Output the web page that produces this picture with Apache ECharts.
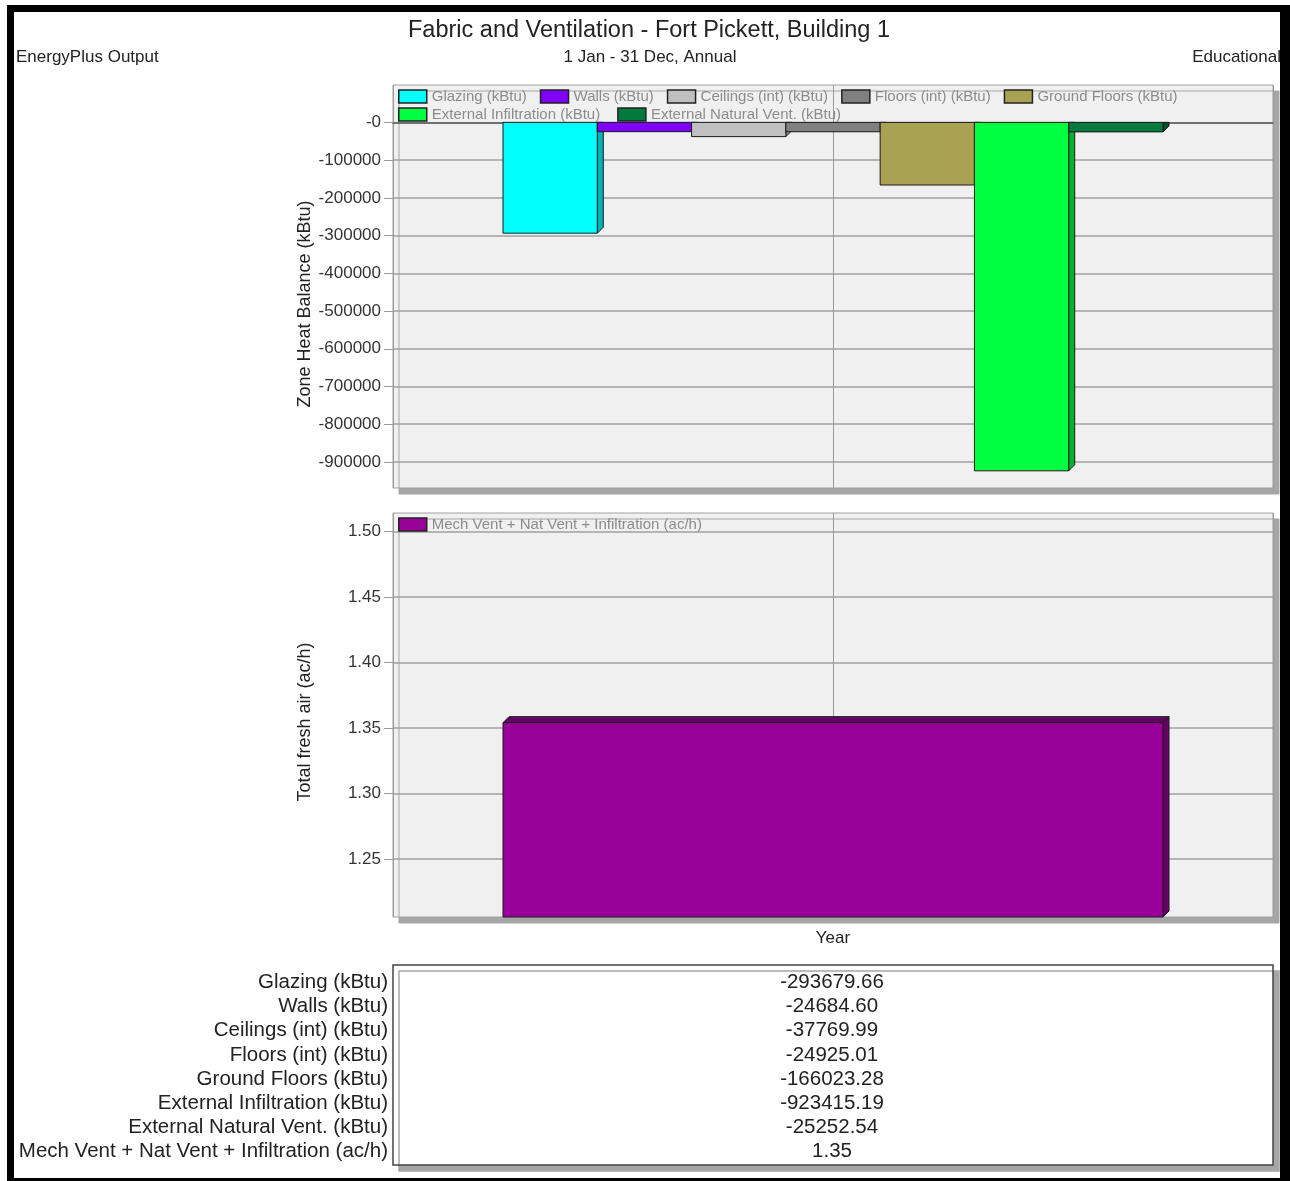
<!DOCTYPE html>
<html><head><meta charset="utf-8">
<script src="https://cdn.jsdelivr.net/npm/echarts@6/dist/echarts.min.js"></script>
<style>html,body{margin:0;padding:0;background:#fff}#c{width:1290px;height:1181px}</style>
</head><body><div id="c"></div>
<script>
// ---------- data ----------
const category = ['Year'];
const heatNames = ['Glazing (kBtu)', 'Walls (kBtu)', 'Ceilings (int) (kBtu)', 'Floors (int) (kBtu)',
  'Ground Floors (kBtu)', 'External Infiltration (kBtu)', 'External Natural Vent. (kBtu)'];
const glazing = [-293679.66];
const walls = [-24684.60];
const ceilings = [-37769.99];
const floorsInt = [-24925.01];
const groundFloors = [-166023.28];
const extInfiltration = [-923415.19];
const extNaturalVent = [-25252.54];
const freshAirName = 'Mech Vent + Nat Vent + Infiltration (ac/h)';
const freshAir = [1.354];
const heatTicks = [0, -100000, -200000, -300000, -400000, -500000, -600000, -700000, -800000, -900000];
const airTicks = [1.25, 1.30, 1.35, 1.40, 1.45, 1.50];

// ---------- styling ----------
const FONT = '"Liberation Sans", Arial, sans-serif';
const heatData = [glazing, walls, ceilings, floorsInt, groundFloors, extInfiltration, extNaturalVent];
const faceColors = ['#00FFFF', '#8000FF', '#C0C0C0', '#808080', '#A9A252', '#00FF40', '#007A3D'];
const sideColors = ['#00B4B4', '#5A00B4', '#8C8C8C', '#585858', '#767038', '#00B42C', '#004F27'];
const DEPTH = 6;
const OUTLINE = '#1a1a1a';

const chart = echarts.init(document.getElementById('c'), null, {renderer: 'canvas'});

// 3D-looking bar drawn through the axis scales (api.coord / api.size)
function bar3D(idx, count, widthRatio, front, side) {
  return function (params, api) {
    const cs = params.coordSys;
    const xv = api.value(0), v = api.value(1);
    const p = api.coord([xv, v]);
    const z = api.coord([xv, 0]);
    const band = api.size([1, 0])[0];
    const total = band * widthRatio;
    const w = total / count;
    const x0 = p[0] - total / 2 + idx * w, x1 = x0 + w;
    const base = Math.min(Math.max(z[1], cs.y), cs.y + cs.height);
    const yTop = Math.min(p[1], base), yBot = Math.max(p[1], base);
    const d = DEPTH;
    const sty = (fill) => ({fill: fill, stroke: OUTLINE, lineWidth: 1});
    const children = [];
    if (v >= 0) {
      children.push({type: 'polygon', shape: {points: [[x0, yTop], [x0 + d, yTop - d], [x1 + d, yTop - d], [x1, yTop]]}, style: sty(side)});
      children.push({type: 'polygon', shape: {points: [[x1, yTop], [x1 + d, yTop - d], [x1 + d, yBot - d], [x1, yBot]]}, style: sty(side)});
    } else {
      const yb = Math.max(yBot - d, yTop);
      children.push({type: 'polygon', shape: {points: [[x1, yTop], [x1 + d, yTop], [x1 + d, yb], [x1, yBot]]}, style: sty(side)});
    }
    children.push({type: 'rect', shape: {x: x0, y: yTop, width: w, height: yBot - yTop}, style: sty(front)});
    return {type: 'group', children: children};
  };
}

const heatSeries = heatNames.map((n, i) => ({
  type: 'custom', name: n, xAxisIndex: 0, yAxisIndex: 0,
  data: heatData[i].map((v, k) => [k, v]),
  encode: {x: 0, y: 1},
  itemStyle: {color: faceColors[i]},
  renderItem: bar3D(i, heatNames.length, 0.75, faceColors[i], sideColors[i])
}));

const airSeries = {
  type: 'custom', name: freshAirName, xAxisIndex: 2, yAxisIndex: 1,
  data: freshAir.map((v, k) => [k, v]),
  encode: {x: 0, y: 1},
  itemStyle: {color: '#990099'},
  renderItem: bar3D(0, 1, 0.75, '#990099', '#640064')
};

const legendCommon = {
  orient: 'horizontal', itemWidth: 28, itemHeight: 13, itemGap: 13, icon: 'rect', padding: 0,
  selectedMode: false, width: 900,
  textStyle: {color: '#8c8c8c', fontSize: 15, fontFamily: FONT},
  itemStyle: {borderColor: '#222', borderWidth: 1.5}
};

const gridCommon = {
  show: true, left: 393, width: 880, backgroundColor: '#F0F0F0', borderColor: '#A0A0A0', borderWidth: 1,
  shadowColor: '#A6A6A6', shadowOffsetX: 6, shadowOffsetY: 6, shadowBlur: 0, containLabel: false
};

const tableRows = heatNames.concat([freshAirName]);
const tableVals = heatData.map(a => a[0].toFixed(2)).concat([freshAir[0].toFixed(2)]);
const tableEls = [];
tableEls.push({type: 'rect', shape: {x: 393, y: 965, width: 880, height: 200},
  style: {fill: '#fff', stroke: '#444', lineWidth: 1.5, shadowColor: '#A6A6A6', shadowOffsetX: 6, shadowOffsetY: 6, shadowBlur: 0}, z: 10});
tableRows.forEach((r, i) => {
  const y = 982.5 + i * 24.15;
  tableEls.push({type: 'text', x: 388, y: y, z: 11,
    style: {text: r, font: '20.5px ' + FONT, fill: '#222', textAlign: 'right', align: 'right', textVerticalAlign: 'middle', verticalAlign: 'middle'}});
  tableEls.push({type: 'text', x: 832, y: y, z: 11,
    style: {text: tableVals[i], font: '20.5px ' + FONT, fill: '#222', textAlign: 'center', align: 'center', textVerticalAlign: 'middle', verticalAlign: 'middle'}});
});

function txt(t, x, y, size, align, extra) {
  return Object.assign({type: 'text', x: x, y: y, z: 20,
    style: {text: t, font: size + 'px ' + FONT, fill: '#222', textAlign: align, align: align, textVerticalAlign: 'middle', verticalAlign: 'middle'}}, extra || {});
}

const option = {
  animation: false,
  backgroundColor: '#ffffff',
  grid: [
    Object.assign({}, gridCommon, {top: 85, height: 403}),
    Object.assign({}, gridCommon, {top: 513, height: 404})
  ],
  legend: [
    Object.assign({}, legendCommon, {data: heatNames.slice(0, 5), left: 398, top: 89}),
    Object.assign({}, legendCommon, {data: heatNames.slice(5), left: 398, top: 107, itemGap: 17}),
    Object.assign({}, legendCommon, {data: [freshAirName], left: 398, top: 517})
  ],
  xAxis: [
    {type: 'category', gridIndex: 0, data: category,
      axisLine: {show: true, onZero: true, lineStyle: {color: '#707070', width: 2}},
      axisTick: {show: false}, axisLabel: {show: false}, splitLine: {show: false}},
    {type: 'value', gridIndex: 0, min: -1, max: 1, interval: 1, position: 'top',
      axisLine: {show: false, onZero: false}, axisTick: {show: false}, axisLabel: {show: false},
      splitLine: {show: true, lineStyle: {color: '#9a9a9a', width: 1}}},
    {type: 'category', gridIndex: 1, data: category,
      axisLine: {show: false, onZero: false}, axisTick: {show: false},
      axisLabel: {show: true, margin: 13, color: '#222', fontSize: 17, fontFamily: FONT},
      splitLine: {show: false}},
    {type: 'value', gridIndex: 1, min: -1, max: 1, interval: 1, position: 'top',
      axisLine: {show: false, onZero: false}, axisTick: {show: false}, axisLabel: {show: false},
      splitLine: {show: true, lineStyle: {color: '#9a9a9a', width: 1}}}
  ],
  yAxis: [
    {type: 'value', gridIndex: 0, min: -969000, max: 99000, splitNumber: 10, position: 'left',
      axisLine: {show: false, onZero: false},
      axisTick: {show: true, length: 9, lineStyle: {color: '#9a9a9a'}, customValues: heatTicks},
      axisLabel: {margin: 12, color: '#333', fontSize: 17, fontFamily: FONT,
        customValues: heatTicks,
        formatter: v => '-' + Math.abs(Math.round(v))},
      splitLine: {show: true, lineStyle: {color: '#a0a0a0', width: 1.5}}},
    {type: 'value', gridIndex: 1, min: 1.2057, max: 1.514, splitNumber: 6, position: 'left',
      axisLine: {show: false, onZero: false},
      axisTick: {show: true, length: 9, lineStyle: {color: '#9a9a9a'}, customValues: airTicks},
      axisLabel: {margin: 12, color: '#333', fontSize: 17, fontFamily: FONT,
        customValues: airTicks,
        formatter: v => v.toFixed(2)},
      splitLine: {show: true, lineStyle: {color: '#a0a0a0', width: 1.5}}}
  ],
  series: heatSeries.concat([airSeries]),
  graphic: {elements: [
    txt('Fabric and Ventilation - Fort Pickett, Building 1', 649, 31, 23.5, 'center'),
    txt('1 Jan - 31 Dec, Annual', 650, 57, 17, 'center'),
    txt('EnergyPlus Output', 16, 57, 17, 'left'),
    txt('Educational', 1281, 57, 17, 'right'),
    txt('Zone Heat Balance (kBtu)', 305, 304, 18, 'center', {rotation: Math.PI / 2}),
    txt('Total fresh air (ac/h)', 305, 722, 18, 'center', {rotation: Math.PI / 2})
  ].concat(tableEls).concat([
    {type: 'rect', z: 50, shape: {x: 7, y: 5, width: 7, height: 1176}, style: {fill: '#000'}},
    {type: 'rect', z: 50, shape: {x: 7, y: 5, width: 1283, height: 7}, style: {fill: '#000'}},
    {type: 'rect', z: 50, shape: {x: 1280, y: 5, width: 10, height: 1176}, style: {fill: '#000'}},
    {type: 'rect', z: 50, shape: {x: 7, y: 1178, width: 1283, height: 3}, style: {fill: '#000'}}
  ])}
};
chart.setOption(option);
</script>
</body></html>
